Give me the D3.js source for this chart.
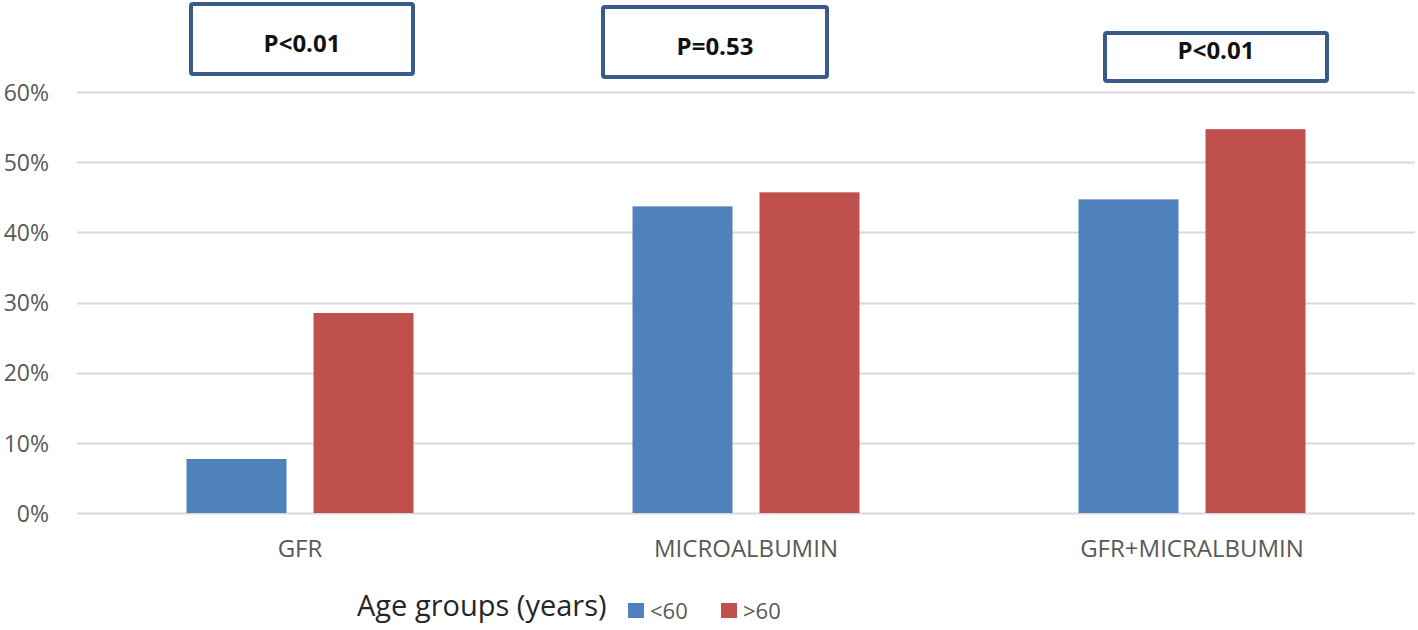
<!DOCTYPE html>
<html><head><meta charset="utf-8">
<script src="https://cdn.jsdelivr.net/npm/d3@7"></script>
<style>body{margin:0;background:#fff;}svg{display:block;font-family:"Open Sans","Liberation Sans",sans-serif;}</style>
</head><body>
<svg id="c" width="1418" height="630"></svg>
<script>
const categories = ["GFR", "MICROALBUMIN", "GFR+MICRALBUMIN"];
const seriesNames = ["<60", ">60"];
const under60 = [0.077, 0.437, 0.447];
const over60 = [0.285, 0.457, 0.547];
const pLabels = ["P<0.01", "P=0.53", "P<0.01"];
const yTicks = [0, 0.1, 0.2, 0.3, 0.4, 0.5, 0.6];
const colors = ["#4F81BD", "#C0504D"];

(function () {
const FONT = "'Open Sans','Liberation Sans',sans-serif";
const svg = d3.select("#c");
const pLeft = 77, pRight = 1415, pTop = 92, pBottom = 513;
const x = d3.scaleBand().domain(categories).range([pLeft, pRight]).paddingInner(0).paddingOuter(0);
const x1 = d3.scaleBand().domain(seriesNames).range([109.5, x.bandwidth() - 109.5]).paddingInner(0.2126);
const y = d3.scaleLinear().domain([0, 0.6]).range([pBottom, pTop]);

// gridlines
svg.append("g").selectAll("line").data(yTicks).join("line")
  .attr("x1", pLeft).attr("x2", pRight)
  .attr("y1", d => Math.round(y(d)) + 0.5).attr("y2", d => Math.round(y(d)) + 0.5)
  .attr("stroke", "#d9d9d9").attr("stroke-width", 2);

// y axis labels
const yAxis = d3.axisLeft(y).tickValues(yTicks).tickFormat(d3.format(".0%")).tickSize(0).tickPadding(0);
const ya = svg.append("g").attr("transform", `translate(49,0)`).call(yAxis);
ya.select(".domain").remove();
ya.selectAll("text").attr("fill", "#595959").attr("font-size", 23).attr("font-family", FONT)
  .attr("dy", "0.36em");

// bars
const data = categories.map((c, i) => ({c, vals: [under60[i], over60[i]]}));
const g = svg.append("g").selectAll("g").data(data).join("g")
  .attr("transform", d => `translate(${x(d.c)},0)`);
g.selectAll("rect").data(d => d.vals.map((v, j) => ({v, s: seriesNames[j], j})))
  .join("rect")
  .attr("x", d => x1(d.s)).attr("width", x1.bandwidth())
  .attr("y", d => y(d.v)).attr("height", d => y(0) - y(d.v))
  .attr("fill", d => colors[d.j]);

// x axis labels
const xAxis = d3.axisBottom(x).tickSize(0).tickPadding(0);
const xa = svg.append("g").attr("transform", `translate(0,557)`).call(xAxis);
xa.select(".domain").remove();
xa.selectAll("text").attr("fill", "#595959").attr("font-size", 24).attr("font-family", FONT)
  .attr("dy", "0").attr("y", 0);

// p-value boxes
const boxes = [{x: 191, y: 4, w: 222, h: 70}, {x: 603, y: 7, w: 224, h: 70}, {x: 1105, y: 33, w: 222, h: 48}];
boxes.forEach((b) => {
  svg.append("rect").attr("x", b.x).attr("y", b.y).attr("width", b.w).attr("height", b.h)
    .attr("fill", "#fff").attr("stroke", "#3A5A89").attr("stroke-width", 4).attr("rx", 2);
});
const textY = [42, 45, 49];
svg.append("g").selectAll("text").data(pLabels).join("text")
  .attr("x", (d, i) => boxes[i].x + boxes[i].w / 2).attr("y", (d, i) => textY[i])
  .attr("text-anchor", "middle").attr("dominant-baseline", "central")
  .attr("font-weight", "bold").attr("font-size", 24).attr("fill", "#111")
  .text(d => d);

// legend
svg.append("text").attr("x", 357).attr("y", 616).attr("font-size", 29).attr("fill", "#262626").text("Age groups (years)");
const leg = [{x: 628, tx: 650}, {x: 721, tx: 743}];
leg.forEach((l, j) => {
  svg.append("rect").attr("x", l.x).attr("y", 603).attr("width", 16).attr("height", 15).attr("fill", colors[j]);
  svg.append("text").attr("x", l.tx).attr("y", 619).attr("font-size", 22).attr("fill", "#595959").text(seriesNames[j]);
});
})();
</script>
</body></html>
